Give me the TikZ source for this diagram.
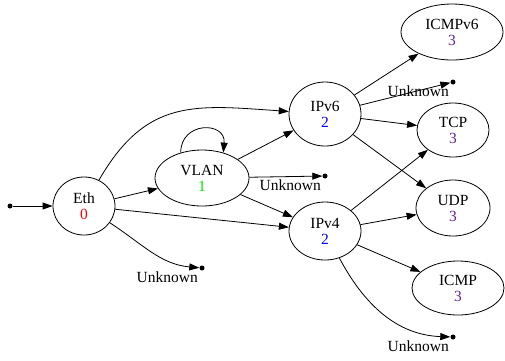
\documentclass[tikz,border=0pt]{standalone}
\usepackage{fontspec}
\setmainfont{Liberation Serif}
\usepackage{tikz}
\usetikzlibrary{shapes,arrows.meta,positioning}
\usepackage{xcolor}
\definecolor{layerred}{RGB}{255,0,0}
\definecolor{layergreen}{RGB}{0,230,0}
\definecolor{layerblue}{RGB}{0,0,255}
\definecolor{layerpurple}{RGB}{95,35,150}

\begin{document}
\begin{tikzpicture}[
    node distance=1cm, on grid,
    proto/.style={draw, ellipse, line width=0.8pt, inner sep=0pt, align=center, minimum height=56pt, font=\fontsize{15.5pt}{16pt}\selectfont},
    sink/.style={circle, fill, inner sep=0pt, minimum size=5pt},
    every label/.append style={inner sep=0pt, font=\fontsize{15.5pt}{16pt}\selectfont},
    arrow/.style={line width=0.8pt, -{Triangle[length=10pt,width=7pt]}}
]
\useasboundingbox (0,0) rectangle (505pt,-360pt);

% Ethernet and VLAN layers
\node[proto, minimum width=62pt, minimum height=58pt] (eth) at (84pt,-206pt) {Eth\\\textcolor{layerred}{0}};
\node[sink, left=74pt of eth] (start) {};
\node[proto, minimum width=94pt, above right=28pt and 118pt of eth] (vlan) {VLAN\\\textcolor{layergreen}{1}};
\node[sink, below right=62pt and 118pt of eth, label={[label distance=3pt]below left:Unknown}] (eth_unknown) {};

% Network layer
\node[proto, minimum width=72pt, minimum height=64pt, above right=64pt and 123pt of vlan] (ipv6) {IPv6\\\textcolor{layerblue}{2}};
\node[proto, minimum width=72pt, minimum height=58pt, below right=53pt and 123pt of vlan] (ipv4) {IPv4\\\textcolor{layerblue}{2}};
\node[sink, above right=2pt and 123pt of vlan, label={[label distance=3pt]below left:Unknown}] (vlan_unknown) {};

% Transport layer
\node[proto, minimum width=102pt, above right=82pt and 127pt of ipv6] (icmpv6) {ICMPv6\\\textcolor{layerpurple}{3}};
\node[proto, minimum width=72pt, minimum height=54pt, below right=16pt and 128pt of ipv6] (tcp) {TCP\\\textcolor{layerpurple}{3}};
\node[proto, minimum width=74pt, above right=23pt and 128pt of ipv4] (udp) {UDP\\\textcolor{layerpurple}{3}};
\node[proto, minimum width=92pt, minimum height=54pt, below right=57pt and 133pt of ipv4] (icmp) {ICMP\\\textcolor{layerpurple}{3}};
\node[sink, above right=32pt and 128pt of ipv6, label={[label distance=3pt]below left:Unknown}] (ipv6_unknown) {};
\node[sink, below right=106pt and 128pt of ipv4, label={[label distance=3pt]below left:Unknown}] (ipv4_unknown) {};

% Connect the layers
\draw[arrow] (start) -- (eth);
\draw[arrow] (eth) -- (vlan);
\draw[arrow] (eth) to[out=60,in=176,looseness=1.2] (ipv6);
\draw[arrow] (eth) -- (ipv4);
\draw[arrow] (eth) to[out=-33,in=175] (eth_unknown);

\draw[arrow] (vlan.130) to[out=90,in=85,looseness=1.9] (vlan.50);
\draw[arrow] (vlan) -- (ipv6);
\draw[arrow] (vlan) -- (vlan_unknown);
\draw[arrow] (vlan) -- (ipv4);

\draw[arrow] (ipv6) -- (icmpv6);
\draw[arrow] (ipv6) -- (ipv6_unknown);
\draw[arrow] (ipv6) -- (tcp);
\draw[arrow] (ipv6) -- (udp);

\draw[arrow] (ipv4) -- (tcp);
\draw[arrow] (ipv4) -- (udp);
\draw[arrow] (ipv4) -- (icmp);
\draw[arrow] (ipv4) to[out=-62,in=178] (ipv4_unknown);

\end{tikzpicture}
\end{document}
